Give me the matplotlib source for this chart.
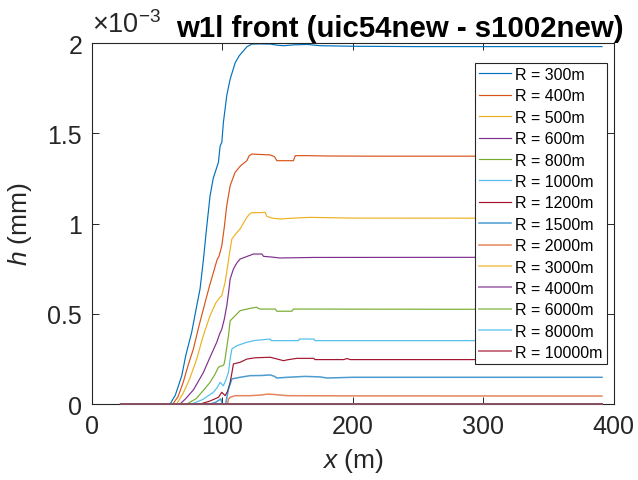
import matplotlib
matplotlib.use("Agg")
import matplotlib.pyplot as plt
from matplotlib.ticker import FuncFormatter

plt.rcParams['font.family'] = ['Liberation Sans', 'DejaVu Sans']
plt.rcParams['mathtext.fontset'] = 'custom'
plt.rcParams['mathtext.rm'] = 'Liberation Sans'
plt.rcParams['mathtext.it'] = 'Liberation Sans:italic'

# h values in units of 1e-3 mm
radii = ["300", "400", "500", "600", "800", "1000", "1200",
         "1500", "2000", "3000", "4000", "6000", "8000", "10000"]

x_300 = [22, 60, 64, 68.9, 72, 76.5, 80, 82.9, 85.5, 88, 90.6, 93, 95.7, 97, 98.3, 99.6,
         100.8, 103.4, 106, 109.8, 113, 116.2, 119, 122.6, 128, 136.7, 142, 147, 155, 165,
         175, 200, 250, 391]
h_300 = [0, 0, 0.05, 0.157, 0.27, 0.397, 0.53, 0.637, 0.80, 0.98, 1.154, 1.25, 1.31, 1.34,
         1.43, 1.45, 1.56, 1.71, 1.80, 1.89, 1.93, 1.957, 1.98, 1.994, 1.995, 1.994, 1.988,
         1.985, 1.99, 1.992, 1.985, 1.982, 1.98, 1.98]

x_400 = [22, 62, 66, 70, 74, 77.8, 82, 86.8, 90, 94, 96, 97.5, 99.6, 101.5, 103.4, 106,
         109.8, 114, 118.8, 120.5, 122.6, 130, 136.7, 140, 141.8, 150, 154.5, 155.9, 165,
         180, 220, 391]
h_400 = [0, 0, 0.04, 0.12, 0.22, 0.305, 0.43, 0.563, 0.65, 0.75, 0.80, 0.82, 0.877, 0.98,
         1.10, 1.21, 1.284, 1.32, 1.348, 1.375, 1.385, 1.382, 1.38, 1.37, 1.348, 1.348,
         1.348, 1.376, 1.376, 1.374, 1.373, 1.373]

x_500 = [22, 65, 70, 75, 80.4, 85, 90.6, 95, 98, 99.6, 102.1, 104, 106, 107.3, 110, 113.6,
         116, 118.8, 120.5, 122.6, 128, 132.8, 134.1, 138, 144.3, 155, 167.4, 200, 391]
h_500 = [0, 0, 0.06, 0.14, 0.25, 0.37, 0.49, 0.56, 0.59, 0.60, 0.674, 0.76, 0.859, 0.914,
         0.94, 0.97, 1.0, 1.034, 1.05, 1.06, 1.06, 1.062, 1.04, 1.03, 1.025, 1.03, 1.034,
         1.03, 1.029]

x_600 = [22, 67.6, 72, 78, 85.5, 90, 95.7, 98, 99.6, 101.5, 103.4, 104.8, 106, 108.5, 111,
         113.6, 118, 123.8, 130.3, 131.6, 136.7, 144.3, 170, 391]
h_600 = [0, 0, 0.03, 0.08, 0.175, 0.25, 0.342, 0.39, 0.415, 0.47, 0.545, 0.62, 0.693, 0.748,
         0.78, 0.803, 0.815, 0.831, 0.831, 0.818, 0.815, 0.809, 0.812, 0.813]

x_800 = [22, 72.7, 80, 86, 90.6, 94, 97, 98.5, 100.3, 101.3, 102.1, 103.5, 104.7, 106,
         109.8, 113.6, 121.3, 126.4, 127.5, 129, 140.5, 141.8, 153.3, 154.5, 391]
h_800 = [0, 0, 0.03, 0.08, 0.12, 0.16, 0.203, 0.21, 0.212, 0.22, 0.249, 0.32, 0.378, 0.461,
         0.489, 0.517, 0.53, 0.536, 0.53, 0.526, 0.526, 0.514, 0.514, 0.526, 0.524]

x_1000 = [22, 76.5, 85, 93.1, 96, 98.3, 100.8, 102.5, 104.7, 106, 107.3, 111.1, 118.8, 125,
          136.7, 137.5, 158.4, 159, 170.1, 171, 391]
h_1000 = [0, 0, 0.025, 0.065, 0.09, 0.12, 0.101, 0.13, 0.175, 0.25, 0.305, 0.323, 0.342,
          0.352, 0.36, 0.351, 0.351, 0.36, 0.36, 0.351, 0.351]

x_1200 = [22, 82.9, 90, 97, 99.6, 102.1, 104, 106, 107.5, 108.5, 113.6, 118.8, 125, 136.7,
          140, 146.9, 150, 157.1, 170, 171, 193, 195.5, 198, 391]
h_1200 = [0, 0, 0.015, 0.037, 0.065, 0.046, 0.07, 0.12, 0.18, 0.222, 0.231, 0.249, 0.256,
          0.259, 0.253, 0.24, 0.245, 0.253, 0.253, 0.246, 0.246, 0.252, 0.246, 0.246]

x_1500 = [22, 90.6, 95, 98.8, 99.6, 100.3, 102.5, 104.7, 107.3, 113.6, 121.3, 130, 136.7,
          140, 141.8, 150, 163.5, 175, 180.2, 200, 391]
h_1500 = [0, 0, 0.01, 0.028, 0.01, 0, 0, 0.083, 0.139, 0.148, 0.157, 0.158, 0.161, 0.153,
          0.144, 0.148, 0.153, 0.15, 0.144, 0.148, 0.148]

x_2000 = [22, 104, 104.7, 106, 109.8, 121.3, 130, 134.6, 139.2, 150, 200, 391]
h_2000 = [0, 0, 0.028, 0.037, 0.046, 0.046, 0.05, 0.055, 0.053, 0.046, 0.045, 0.044]

x_flat = [22, 391]
h_flat = [0, 0]

xs = [x_300, x_400, x_500, x_600, x_800, x_1000, x_1200, x_1500, x_2000,
      x_flat, x_flat, x_flat, x_flat, x_flat]
hs = [h_300, h_400, h_500, h_600, h_800, h_1000, h_1200, h_1500, h_2000,
      h_flat, h_flat, h_flat, h_flat, h_flat]

matlab = ['#0072BD', '#D95319', '#EDB120', '#7E2F8E', '#77AC30', '#4DBEEE', '#A2142F']

fig = plt.figure(figsize=(6.38, 4.81), dpi=100)
ax = fig.add_axes([0.144, 0.158, 0.818, 0.7505])

for i, (xv, hv, r) in enumerate(zip(xs, hs, radii)):
    c = matlab[i % 7]
    if i < 7:
        ax.plot(xv, hv, color=c, lw=0.85, label="R = " + r + "m")
    elif i < 9:
        ax.plot(xv, hv, color=c, lw=1.1, alpha=0.7, label="R = " + r + "m",
                clip_on=False, zorder=3)
    else:
        ax.plot(xv, hv, color=c, lw=1.4, alpha=0.6, label="R = " + r + "m",
                clip_on=False, zorder=3)

ax.set_xlim(0, 400)
ax.set_ylim(0, 2)
ax.set_xticks([0, 100, 200, 300, 400])
ax.set_yticks([0, 0.5, 1, 1.5, 2])
ax.yaxis.set_major_formatter(FuncFormatter(lambda v, p: '%g' % v))
ax.tick_params(direction='in', top=True, right=True, length=5, width=0.7,
               labelsize=18, colors='#262626', pad=7)
for s in ax.spines.values():
    s.set_linewidth(0.8)
    s.set_color('#262626')

ax.set_xlabel(r'$x$ (m)', fontsize=19, color='#262626', labelpad=6)
ax.set_ylabel(r'$h$ (mm)', fontsize=19, color='#262626', labelpad=10)
ax.text(0.0, 1.015, r'$\times10^{-3}$', transform=ax.transAxes, fontsize=19.5,
        color='#262626', ha='left', va='bottom')
ax.set_title('w1l front (uic54new - s1002new)', fontsize=21.2, fontweight='bold',
             x=0.59, pad=5)

leg = ax.legend(loc='upper right', bbox_to_anchor=(0.9866, 0.9446), borderaxespad=0,
                fontsize=11.5, handlelength=2.05, labelspacing=0.4, handletextpad=0.25,
                borderpad=0.25, fancybox=False, framealpha=1, edgecolor='#262626')
leg.get_frame().set_linewidth(0.8)

fig.savefig("out.png", dpi=100)
